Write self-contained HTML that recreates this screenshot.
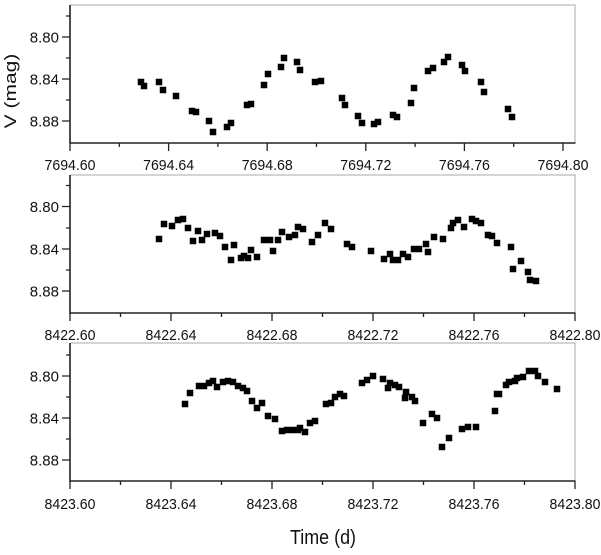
<!DOCTYPE html>
<html>
<head>
<meta charset="utf-8">
<style>
html,body{margin:0;padding:0;background:#fff;}
svg{display:block;}
text{font-family:"Liberation Sans",Arial,sans-serif;fill:#111;}
</style>
</head>
<body>
<svg width="601" height="555" viewBox="0 0 601 555" xmlns="http://www.w3.org/2000/svg">
<rect x="0" y="0" width="601" height="555" fill="#fff"/>

<!-- PANEL 1 -->
<path d="M70 5H575V143" fill="none" stroke="#a8a8a8" stroke-width="1"/>
<path d="M70 5V143H575.5" fill="none" stroke="#222" stroke-width="1.6"/>
<path d="M66 16H70M62 37H70M66 58H70M62 79H70M66 100H70M62 121H70M70 143V151M119.3 143V147M168.6 143V151M217.9 143V147M267.2 143V151M316.5 143V147M365.8 143V151M415.1 143V147M464.4 143V151M513.7 143V147M563 143V151" stroke="#222" stroke-width="1.3" fill="none"/>
<g font-size="15" text-anchor="end">
<text x="59" y="42.5">8.80</text>
<text x="59" y="84.5">8.84</text>
<text x="59" y="126.5">8.88</text>
</g>
<g font-size="15" text-anchor="middle">
<text x="70" y="170" textLength="51" lengthAdjust="spacingAndGlyphs">7694.60</text>
<text x="168.6" y="170" textLength="51" lengthAdjust="spacingAndGlyphs">7694.64</text>
<text x="267.2" y="170" textLength="51" lengthAdjust="spacingAndGlyphs">7694.68</text>
<text x="365.8" y="170" textLength="51" lengthAdjust="spacingAndGlyphs">7694.72</text>
<text x="464.4" y="170" textLength="51" lengthAdjust="spacingAndGlyphs">7694.76</text>
<text x="563" y="170" textLength="51" lengthAdjust="spacingAndGlyphs">7694.80</text>
</g>
<path fill="#000" d="M137.75 78.75h6.5v6.5h-6.5zM140.75 82.75h6.5v6.5h-6.5zM155.75 78.75h6.5v6.5h-6.5zM159.75 86.75h6.5v6.5h-6.5zM172.75 92.75h6.5v6.5h-6.5zM188.75 107.75h6.5v6.5h-6.5zM192.75 108.75h6.5v6.5h-6.5zM205.75 117.75h6.5v6.5h-6.5zM209.75 128.75h6.5v6.5h-6.5zM223.75 123.75h6.5v6.5h-6.5zM227.75 119.75h6.5v6.5h-6.5zM243.75 101.75h6.5v6.5h-6.5zM247.75 100.75h6.5v6.5h-6.5zM260.75 81.75h6.5v6.5h-6.5zM264.75 70.75h6.5v6.5h-6.5zM277.75 63.75h6.5v6.5h-6.5zM280.75 54.75h6.5v6.5h-6.5zM293.75 58.75h6.5v6.5h-6.5zM296.75 66.75h6.5v6.5h-6.5zM311.75 78.75h6.5v6.5h-6.5zM317.75 77.75h6.5v6.5h-6.5zM338.75 94.75h6.5v6.5h-6.5zM341.75 101.75h6.5v6.5h-6.5zM354.75 112.75h6.5v6.5h-6.5zM358.75 119.75h6.5v6.5h-6.5zM370.75 120.75h6.5v6.5h-6.5zM374.75 118.75h6.5v6.5h-6.5zM389.75 111.75h6.5v6.5h-6.5zM393.75 113.75h6.5v6.5h-6.5zM407.75 99.75h6.5v6.5h-6.5zM410.75 84.75h6.5v6.5h-6.5zM424.75 67.75h6.5v6.5h-6.5zM429.75 64.75h6.5v6.5h-6.5zM440.75 58.75h6.5v6.5h-6.5zM444.75 53.75h6.5v6.5h-6.5zM458.75 61.75h6.5v6.5h-6.5zM461.75 67.75h6.5v6.5h-6.5zM477.75 78.75h6.5v6.5h-6.5zM480.75 88.75h6.5v6.5h-6.5zM504.75 105.75h6.5v6.5h-6.5zM508.75 113.75h6.5v6.5h-6.5z"/>

<!-- PANEL 2 -->
<path d="M70 175H575V313" fill="none" stroke="#a8a8a8" stroke-width="1"/>
<path d="M70 175V313H575.5" fill="none" stroke="#222" stroke-width="1.6"/>
<path d="M66 185.5H70M62 206.5H70M66 228H70M62 249H70M66 270H70M62 291H70M70 313V321M120.5 313V317M171 313V321M221.5 313V317M272 313V321M322.5 313V317M373 313V321M423.5 313V317M474 313V321M524.5 313V317M575 313V321" stroke="#222" stroke-width="1.3" fill="none"/>
<g font-size="15" text-anchor="end">
<text x="59" y="212">8.80</text>
<text x="59" y="254.5">8.84</text>
<text x="59" y="296.5">8.88</text>
</g>
<g font-size="15" text-anchor="middle">
<text x="70" y="340" textLength="51" lengthAdjust="spacingAndGlyphs">8422.60</text>
<text x="171" y="340" textLength="51" lengthAdjust="spacingAndGlyphs">8422.64</text>
<text x="272" y="340" textLength="51" lengthAdjust="spacingAndGlyphs">8422.68</text>
<text x="373" y="340" textLength="51" lengthAdjust="spacingAndGlyphs">8422.72</text>
<text x="474" y="340" textLength="51" lengthAdjust="spacingAndGlyphs">8422.76</text>
<text x="575" y="340" textLength="51" lengthAdjust="spacingAndGlyphs">8422.80</text>
</g>
<path fill="#000" d="M155.75 235.75h6.5v6.5h-6.5zM160.75 220.75h6.5v6.5h-6.5zM168.75 222.75h6.5v6.5h-6.5zM174.75 216.75h6.5v6.5h-6.5zM179.75 215.75h6.5v6.5h-6.5zM184.75 224.75h6.5v6.5h-6.5zM189.75 237.75h6.5v6.5h-6.5zM194.75 227.75h6.5v6.5h-6.5zM198.75 236.75h6.5v6.5h-6.5zM203.75 230.75h6.5v6.5h-6.5zM211.75 229.75h6.5v6.5h-6.5zM216.75 232.75h6.5v6.5h-6.5zM221.75 243.75h6.5v6.5h-6.5zM227.75 256.75h6.5v6.5h-6.5zM230.75 241.75h6.5v6.5h-6.5zM237.75 254.75h6.5v6.5h-6.5zM240.75 252.75h6.5v6.5h-6.5zM244.75 254.75h6.5v6.5h-6.5zM247.75 246.75h6.5v6.5h-6.5zM253.75 253.75h6.5v6.5h-6.5zM260.75 236.75h6.5v6.5h-6.5zM266.75 236.75h6.5v6.5h-6.5zM269.75 247.75h6.5v6.5h-6.5zM274.75 236.75h6.5v6.5h-6.5zM278.75 228.75h6.5v6.5h-6.5zM285.75 233.75h6.5v6.5h-6.5zM291.75 231.75h6.5v6.5h-6.5zM294.75 223.75h6.5v6.5h-6.5zM299.75 225.75h6.5v6.5h-6.5zM308.75 238.75h6.5v6.5h-6.5zM314.75 231.75h6.5v6.5h-6.5zM321.75 219.75h6.5v6.5h-6.5zM327.75 225.75h6.5v6.5h-6.5zM343.75 240.75h6.5v6.5h-6.5zM348.75 243.75h6.5v6.5h-6.5zM367.75 247.75h6.5v6.5h-6.5zM380.75 255.75h6.5v6.5h-6.5zM386.75 250.75h6.5v6.5h-6.5zM389.75 256.75h6.5v6.5h-6.5zM394.75 256.75h6.5v6.5h-6.5zM399.75 250.75h6.5v6.5h-6.5zM404.75 253.75h6.5v6.5h-6.5zM410.75 245.75h6.5v6.5h-6.5zM415.75 245.75h6.5v6.5h-6.5zM422.75 240.75h6.5v6.5h-6.5zM424.75 248.75h6.5v6.5h-6.5zM430.75 233.75h6.5v6.5h-6.5zM439.75 235.75h6.5v6.5h-6.5zM447.75 224.75h6.5v6.5h-6.5zM449.75 219.75h6.5v6.5h-6.5zM454.75 216.75h6.5v6.5h-6.5zM460.75 223.75h6.5v6.5h-6.5zM468.75 215.75h6.5v6.5h-6.5zM472.75 217.75h6.5v6.5h-6.5zM477.75 219.75h6.5v6.5h-6.5zM484.75 231.75h6.5v6.5h-6.5zM488.75 232.75h6.5v6.5h-6.5zM493.75 239.75h6.5v6.5h-6.5zM507.75 243.75h6.5v6.5h-6.5zM509.75 265.75h6.5v6.5h-6.5zM517.75 257.75h6.5v6.5h-6.5zM524.75 268.75h6.5v6.5h-6.5zM526.75 276.75h6.5v6.5h-6.5zM532.75 277.75h6.5v6.5h-6.5z"/>

<!-- PANEL 3 -->
<path d="M70 343H575V481" fill="none" stroke="#a8a8a8" stroke-width="1"/>
<path d="M70 343V481H575.5" fill="none" stroke="#222" stroke-width="1.6"/>
<path d="M66 355H70M62 376H70M66 397H70M62 418H70M66 439H70M62 460H70M70 481V489M120.5 481V485M171 481V489M221.5 481V485M272 481V489M322.5 481V485M373 481V489M423.5 481V485M474 481V489M524.5 481V485M575 481V489" stroke="#222" stroke-width="1.3" fill="none"/>
<g font-size="15" text-anchor="end">
<text x="59" y="381.5">8.80</text>
<text x="59" y="423.5">8.84</text>
<text x="59" y="465.5">8.88</text>
</g>
<g font-size="15" text-anchor="middle">
<text x="70" y="509" textLength="51" lengthAdjust="spacingAndGlyphs">8423.60</text>
<text x="171" y="509" textLength="51" lengthAdjust="spacingAndGlyphs">8423.64</text>
<text x="272" y="509" textLength="51" lengthAdjust="spacingAndGlyphs">8423.68</text>
<text x="373" y="509" textLength="51" lengthAdjust="spacingAndGlyphs">8423.72</text>
<text x="474" y="509" textLength="51" lengthAdjust="spacingAndGlyphs">8423.76</text>
<text x="575" y="509" textLength="51" lengthAdjust="spacingAndGlyphs">8423.80</text>
</g>
<path fill="#000" d="M181.75 400.75h6.5v6.5h-6.5zM186.75 389.75h6.5v6.5h-6.5zM195.75 382.75h6.5v6.5h-6.5zM200.75 382.75h6.5v6.5h-6.5zM205.75 379.75h6.5v6.5h-6.5zM209.75 377.75h6.5v6.5h-6.5zM213.75 383.75h6.5v6.5h-6.5zM219.75 378.75h6.5v6.5h-6.5zM224.75 377.75h6.5v6.5h-6.5zM229.75 378.75h6.5v6.5h-6.5zM234.75 382.75h6.5v6.5h-6.5zM239.75 384.75h6.5v6.5h-6.5zM243.75 387.75h6.5v6.5h-6.5zM248.75 397.75h6.5v6.5h-6.5zM253.75 404.75h6.5v6.5h-6.5zM258.75 399.75h6.5v6.5h-6.5zM264.75 412.75h6.5v6.5h-6.5zM271.75 415.75h6.5v6.5h-6.5zM278.75 427.75h6.5v6.5h-6.5zM283.75 426.75h6.5v6.5h-6.5zM288.75 426.75h6.5v6.5h-6.5zM294.75 426.75h6.5v6.5h-6.5zM296.75 424.75h6.5v6.5h-6.5zM301.75 428.75h6.5v6.5h-6.5zM306.75 419.75h6.5v6.5h-6.5zM311.75 417.75h6.5v6.5h-6.5zM322.75 400.75h6.5v6.5h-6.5zM327.75 399.75h6.5v6.5h-6.5zM331.75 393.75h6.5v6.5h-6.5zM336.75 390.75h6.5v6.5h-6.5zM340.75 392.75h6.5v6.5h-6.5zM358.75 379.75h6.5v6.5h-6.5zM363.75 376.75h6.5v6.5h-6.5zM369.75 372.75h6.5v6.5h-6.5zM379.75 375.75h6.5v6.5h-6.5zM384.75 384.75h6.5v6.5h-6.5zM386.75 379.75h6.5v6.5h-6.5zM391.75 381.75h6.5v6.5h-6.5zM395.75 383.75h6.5v6.5h-6.5zM402.75 388.75h6.5v6.5h-6.5zM401.75 394.75h6.5v6.5h-6.5zM408.75 393.75h6.5v6.5h-6.5zM411.75 397.75h6.5v6.5h-6.5zM419.75 419.75h6.5v6.5h-6.5zM428.75 410.75h6.5v6.5h-6.5zM433.75 414.75h6.5v6.5h-6.5zM438.75 443.75h6.5v6.5h-6.5zM445.75 434.75h6.5v6.5h-6.5zM458.75 425.75h6.5v6.5h-6.5zM464.75 423.75h6.5v6.5h-6.5zM472.75 423.75h6.5v6.5h-6.5zM491.75 407.75h6.5v6.5h-6.5zM493.75 390.75h6.5v6.5h-6.5zM495.75 390.75h6.5v6.5h-6.5zM502.75 381.75h6.5v6.5h-6.5zM505.75 378.75h6.5v6.5h-6.5zM511.75 377.75h6.5v6.5h-6.5zM513.75 374.75h6.5v6.5h-6.5zM519.75 373.75h6.5v6.5h-6.5zM525.75 367.75h6.5v6.5h-6.5zM531.75 367.75h6.5v6.5h-6.5zM534.75 372.75h6.5v6.5h-6.5zM541.75 378.75h6.5v6.5h-6.5zM553.75 385.75h6.5v6.5h-6.5z"/>

<!-- Axis titles -->
<text transform="translate(16,91) rotate(-90) scale(1.05,0.85)" font-size="20" text-anchor="middle">V (mag)</text>
<text x="323" y="544" font-size="20" text-anchor="middle" textLength="66" lengthAdjust="spacingAndGlyphs">Time (d)</text>
</svg>
</body>
</html>
